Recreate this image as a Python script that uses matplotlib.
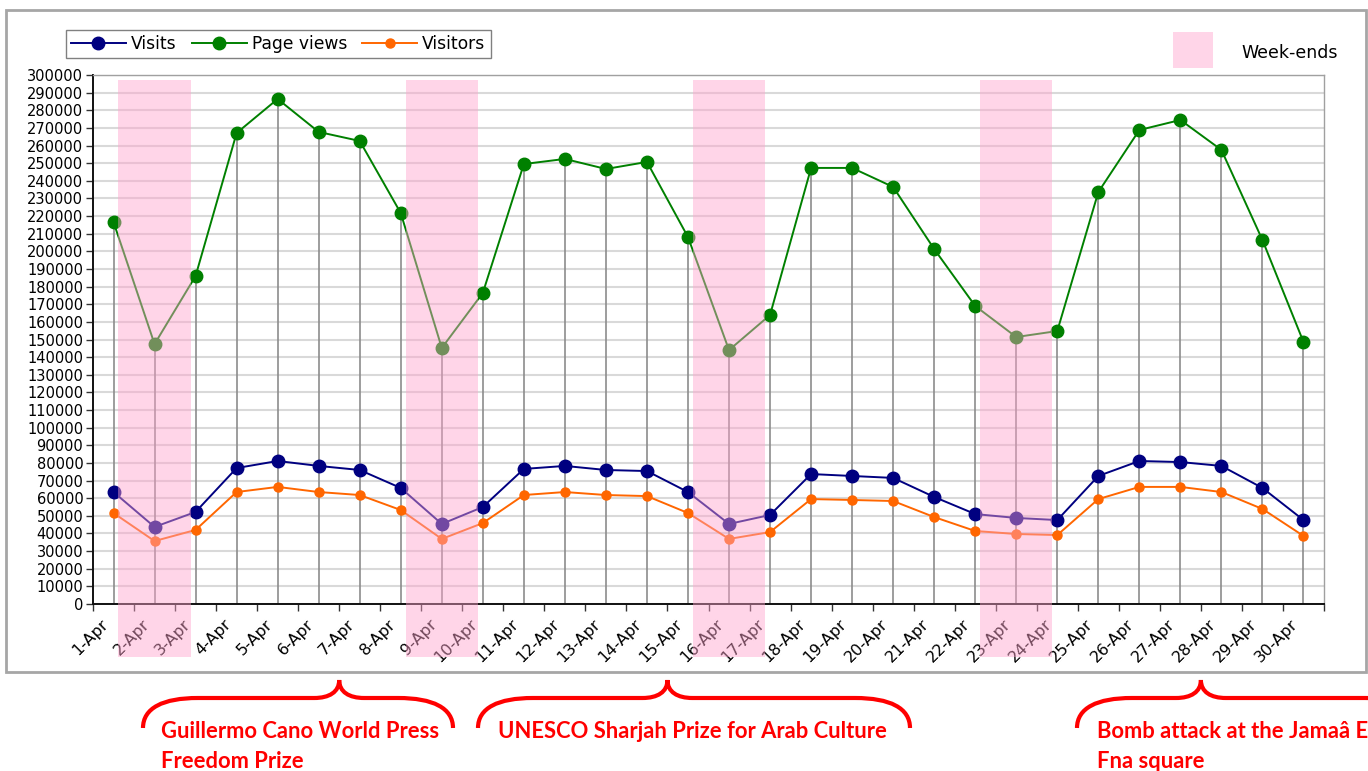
import numpy as np
import matplotlib.pyplot as plt
from matplotlib.patches import Rectangle, PathPatch
from matplotlib.path import Path
from matplotlib.ticker import NullFormatter
import matplotlib.transforms as mtransforms

# daily stats for April
days = ['%d-Apr' % d for d in range(1, 31)]
visits = [63500, 43700, 52200, 77100, 81100, 78300, 76000, 65800, 45400, 55000,
          76600, 78300, 76000, 75400, 63500, 45400, 50500, 73700, 72600, 71500,
          60700, 51000, 48800, 47600, 72600, 81100, 80500, 78300, 65800, 47600]
page_views = [216600, 147400, 186000, 267100, 286400, 267700, 262600, 221700, 145200, 176400,
              249500, 252400, 246700, 250700, 208100, 144000, 163900, 247300, 247300, 236500,
              201300, 169000, 151400, 154800, 233600, 268800, 274500, 257500, 206400, 148600]
visitors = [51600, 35700, 42000, 63500, 66400, 63500, 61800, 53300, 36900, 45900,
            61800, 63500, 61800, 61200, 51600, 36900, 40800, 59500, 59000, 58400,
            49300, 41400, 39700, 39100, 59500, 66400, 66400, 63500, 53900, 38600]
weekends = [('2-Apr', '3-Apr'), ('9-Apr', '10-Apr'), ('16-Apr', '17-Apr'), ('23-Apr', '24-Apr')]
# brace tip sits at the left edge of the given day
events = [('7-Apr', 'Guillermo Cano World Press\nFreedom Prize'),
          ('15-Apr', 'UNESCO Sharjah Prize for Arab Culture'),
          ('28-Apr', 'Bomb attack at the Jamaâ El\nFna square')]

W, H = 1368, 771


def fx(px):
    return px / W


def fy(py):
    return 1 - py / H


def brace_path(x0, xm, x1, y_end=728, y_mid=698, y_tip=680):
    """
    Curly brace in pixel coords (y down), returned in figure fraction
    """
    verts = [(x0, y_end),
             (x0, y_mid + 10), (x0 + 20, y_mid), (x0 + 55, y_mid),
             (xm - 25, y_mid),
             (xm - 10, y_mid), (xm, y_mid - 6), (xm, y_tip),
             (xm, y_mid - 6), (xm + 10, y_mid), (xm + 25, y_mid),
             (x1 - 55, y_mid),
             (x1 - 20, y_mid), (x1, y_mid + 10), (x1, y_end)]
    codes = [Path.MOVETO, Path.CURVE4, Path.CURVE4, Path.CURVE4, Path.LINETO,
             Path.CURVE4, Path.CURVE4, Path.CURVE4, Path.CURVE4, Path.CURVE4, Path.CURVE4,
             Path.LINETO, Path.CURVE4, Path.CURVE4, Path.CURVE4]
    return Path([(fx(a), fy(b)) for a, b in verts], codes)


plt.rcParams['font.family'] = ['DejaVu Sans']
fig = plt.figure(figsize=(W / 100, H / 100), dpi=100)
ax = fig.add_axes([fx(93), fy(604), (1324 - 93) / W, (604 - 75) / H])

x = np.arange(len(days))
ax.set_xlim(-0.5, len(days) - 0.5)
ax.set_ylim(0, 300000)
ax.set_yticks(np.arange(0, 300001, 10000))
ax.yaxis.grid(True, color='#d9d9d9', lw=1.5)
ax.set_axisbelow(True)

ax.vlines(x, 0, page_views, color='#8c8c8c', lw=1.2, zorder=1.8)
ax.plot(x, visits, color='#000080', marker='o', ms=9, lw=1.4, label='Visits', zorder=3)
ax.plot(x, page_views, color='#008000', marker='o', ms=9, lw=1.4, label='Page views', zorder=3)
ax.plot(x, visitors, color='#FF6600', marker='o', ms=6.5, lw=1.4, label='Visitors', zorder=3)

# weekend shading drawn on top, also over the tick labels
for sat, sun in weekends:
    i0 = days.index(sat) - 0.88
    i1 = days.index(sun) - 0.12
    ax.add_patch(Rectangle((i0, -30000), i1 - i0, 327000, facecolor='#FFA2CC', alpha=0.45,
                           edgecolor='none', clip_on=False, zorder=6))

# ticks: marks at category edges, labels at centers
ax.set_xticks(np.arange(-0.5, len(days), 1))
ax.xaxis.set_major_formatter(NullFormatter())
ax.set_xticks(x, minor=True)
ax.set_xticklabels(days, minor=True, rotation=45, ha='right', va='top', rotation_mode='anchor')
ax.tick_params(axis='x', which='major', length=5, width=1, color='#333333', direction='out')
ax.tick_params(axis='x', which='minor', length=0, pad=9, labelsize=11.5)
ax.tick_params(axis='y', length=5, width=1, color='#333333', labelsize=10.5, pad=2)
offset = mtransforms.ScaledTranslation(-13 / 100, 0, fig.dpi_scale_trans)
for lbl in ax.get_xticklabels(minor=True):
    lbl.set_transform(lbl.get_transform() + offset)

for s in ['left', 'bottom']:
    ax.spines[s].set_color('#111111')
    ax.spines[s].set_linewidth(1.4)
for s in ['top', 'right']:
    ax.spines[s].set_color('#a0a0a0')
    ax.spines[s].set_linewidth(1)

fig.legend(loc='upper left', bbox_to_anchor=(fx(66), fy(30)), ncol=3, frameon=True,
           fancybox=False, edgecolor='#808080', framealpha=1, borderpad=0.3,
           handlelength=3.2, handletextpad=0.3, columnspacing=0.9, borderaxespad=0,
           prop={'size': 12.3})

# week-ends key
fig.patches.append(Rectangle((fx(1173), fy(68)), 40 / W, 36 / H, transform=fig.transFigure,
                             facecolor='#FFD5E8', edgecolor='none'))
fig.text(fx(1241), fy(53), 'Week-ends', fontsize=12.5, va='center')

# outer chart frame
fig.patches.append(Rectangle((fx(6), fy(672)), (1366 - 6) / W, (672 - 10) / H,
                             transform=fig.transFigure, fill=False, edgecolor='#a6a6a6', lw=2))

# event braces and captions
brace_spans = [(143, 453), (478, 910), (1077, 1420)]
text_left = [161, 498, 1097]
for (day, txt), (b0, b1), tl in zip(events, brace_spans, text_left):
    tip_px = ax.transData.transform((days.index(day) - 0.5, 0))[0]
    fig.patches.append(PathPatch(brace_path(b0, tip_px, b1), transform=fig.transFigure,
                                 fill=False, edgecolor='#FF0000', lw=3))
    fig.text(fx(tl), fy(721), txt, color='#FF0000', fontsize=15.8, fontweight='bold',
             family=['Lato', 'DejaVu Sans'], va='top', linespacing=1.5)

fig.savefig('out.png', dpi=100)
